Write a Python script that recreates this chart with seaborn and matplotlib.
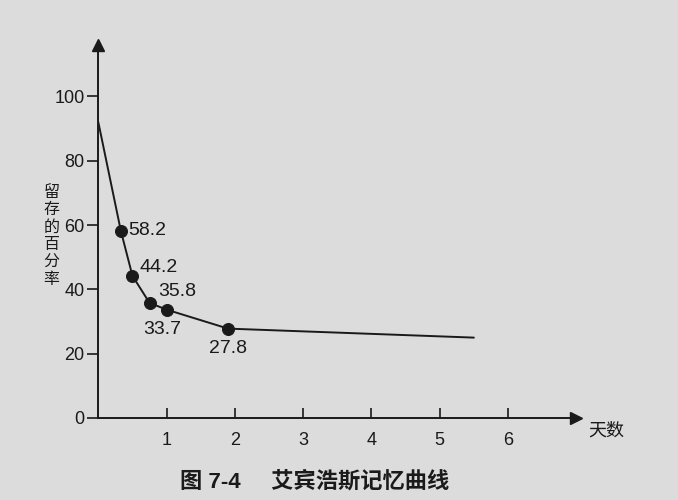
import matplotlib
matplotlib.use("Agg")
import matplotlib.pyplot as plt
import seaborn as sns
import pandas as pd

# Data
curve_days = [0.0, 0.33, 0.5, 0.75, 1.0, 1.9, 5.5]
curve_pct = [92.0, 58.2, 44.2, 35.8, 33.7, 27.8, 25.0]
point_days = [0.33, 0.5, 0.75, 1.0, 1.9]
point_pct = [58.2, 44.2, 35.8, 33.7, 27.8]
point_labels = ["58.2", "44.2", "35.8", "33.7", "27.8"]
label_offsets = [(5, 0), (5, 6), (6, 8), (-17, -14), (-14, -14)]
x_ticks = [1, 2, 3, 4, 5, 6]
y_ticks = [0, 20, 40, 60, 80, 100]
y_label = "留存的百分率"
x_label = "天数"
caption = "图 7-4     艾宾浩斯记忆曲线"

sns.set_theme(style="white")
plt.rcParams["font.family"] = ["Liberation Sans", "Noto Sans CJK SC", "DejaVu Sans"]

bg = "#dcdcdc"
ink = "#1a1a1a"
fig = plt.figure(figsize=(6.78, 5.0), dpi=100, facecolor=bg)
ax = fig.add_axes([0.145, 0.164, 0.705, 0.746], facecolor=bg)

curve = pd.DataFrame({"day": curve_days, "pct": curve_pct})
pts = pd.DataFrame({"day": point_days, "pct": point_pct})

sns.lineplot(data=curve, x="day", y="pct", color=ink, linewidth=1.4,
             sort=False, ax=ax)
sns.scatterplot(data=pts, x="day", y="pct", color=ink, s=75,
                edgecolor=ink, zorder=5, ax=ax)

for x, y, t, (dx, dy) in zip(point_days, point_pct, point_labels, label_offsets):
    ax.annotate(t, (x, y), xytext=(dx, dy), textcoords="offset points",
                ha="left", va="center", fontsize=14, color=ink)

ax.set_xlim(0, 7.0)
ax.set_ylim(0, 116)
ax.set_xticks(x_ticks)
ax.set_yticks(y_ticks)
ax.set_xticklabels([str(v) for v in x_ticks], fontsize=13, color=ink)
ax.set_yticklabels([str(v) for v in y_ticks], fontsize=13, color=ink)
ax.tick_params(axis="x", direction="in", length=7, width=1.2, pad=10,
               colors=ink, bottom=True)
ax.tick_params(axis="y", direction="out", length=8, width=1.2, pad=2,
               colors=ink, left=True)
ax.set_xlabel("")
ax.set_ylabel("")

for side in ["top", "right"]:
    ax.spines[side].set_visible(False)
for side in ["left", "bottom"]:
    ax.spines[side].set_color(ink)
    ax.spines[side].set_linewidth(1.4)

# axis arrows
ax.plot(1, 0, ">", color=ink, markersize=9, transform=ax.get_yaxis_transform(),
        clip_on=False)
ax.plot(0, 1, "^", color=ink, markersize=9, transform=ax.get_xaxis_transform(),
        clip_on=False)

# x label to the right of the arrow
ax.text(1.025, -0.012, x_label, transform=ax.transAxes, ha="left", va="top",
        fontsize=13, color=ink)

# vertical stacked y label, one character per row
top_px, step_px = 192, 17.5
for i, ch in enumerate(y_label):
    fig.text(0.076, 1 - (top_px + i * step_px) / 500, ch, ha="center",
             va="center", fontsize=11.5, color=ink)

# caption
fig.text(0.265, 0.036, caption, ha="left", va="center", fontsize=16,
         color=ink, fontweight="bold")

fig.savefig("out.png", dpi=100, facecolor=bg)
